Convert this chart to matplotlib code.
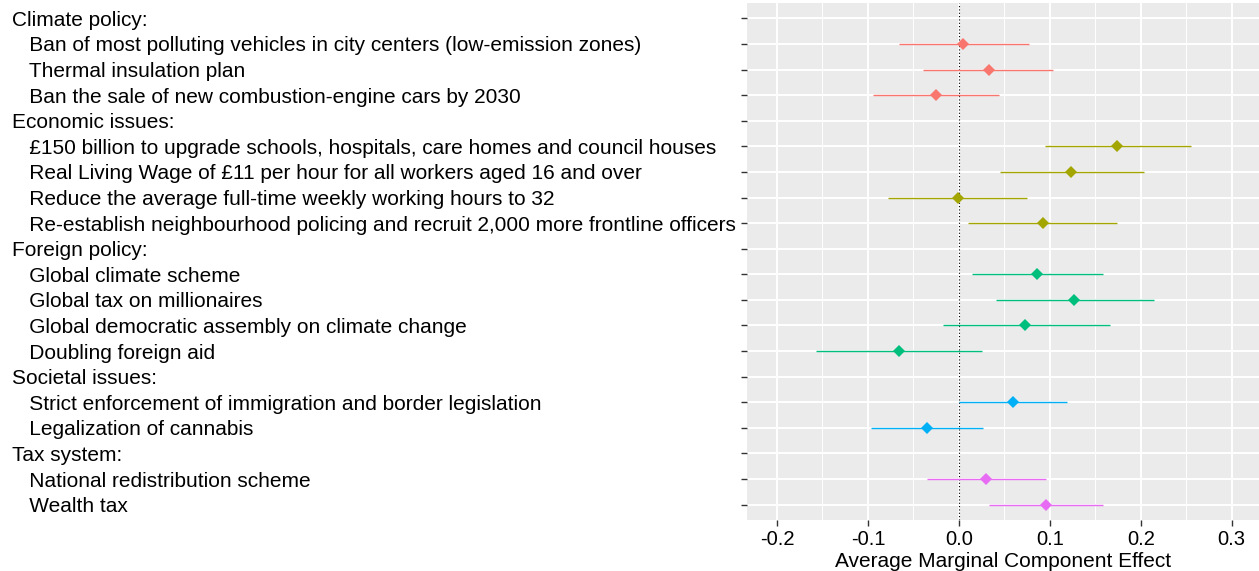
import matplotlib.pyplot as plt
from matplotlib.ticker import MultipleLocator

plt.rcParams['font.family'] = ['Liberation Sans', 'DejaVu Sans']

groups = ['Climate policy:', 'Economic issues:', 'Foreign policy:',
          'Societal issues:', 'Tax system:']
group_colors = ['#F8766D', '#A3A500', '#00BF7D', '#00B0F6', '#E76BF3']

items = [
    ['Ban of most polluting vehicles in city centers (low-emission zones)',
     'Thermal insulation plan',
     'Ban the sale of new combustion-engine cars by 2030'],
    ['£150 billion to upgrade schools, hospitals, care homes and council houses',
     'Real Living Wage of £11 per hour for all workers aged 16 and over',
     'Reduce the average full-time weekly working hours to 32',
     'Re-establish neighbourhood policing and recruit 2,000 more frontline officers'],
    ['Global climate scheme',
     'Global tax on millionaires',
     'Global democratic assembly on climate change',
     'Doubling foreign aid'],
    ['Strict enforcement of immigration and border legislation',
     'Legalization of cannabis'],
    ['National redistribution scheme',
     'Wealth tax'],
]

estimates = [
    [0.005, 0.033, -0.025],
    [0.174, 0.123, -0.001, 0.092],
    [0.086, 0.127, 0.073, -0.066],
    [0.059, -0.035],
    [0.030, 0.096],
]
lower = [
    [-0.066, -0.039, -0.094],
    [0.095, 0.045, -0.078, 0.010],
    [0.014, 0.041, -0.018, -0.157],
    [0.000, -0.097],
    [-0.035, 0.033],
]
upper = [
    [0.077, 0.104, 0.044],
    [0.255, 0.203, 0.075, 0.174],
    [0.159, 0.215, 0.166, 0.025],
    [0.119, 0.026],
    [0.096, 0.159],
]

fig = plt.figure(figsize=(12.59, 5.71), dpi=100)
ax = fig.add_axes([747 / 1259, 1 - 520 / 571, 512 / 1259, 517 / 571])
ax.set_facecolor('#EBEBEB')

labels = []
row = 0
for g, name in enumerate(groups):
    labels.append(name)
    row += 1
    for i, item in enumerate(items[g]):
        labels.append('   ' + item)
        c = group_colors[g]
        ax.plot([lower[g][i], upper[g][i]], [row, row], color=c, lw=1.0,
                solid_capstyle='butt', zorder=3)
        ax.plot(estimates[g][i], row, marker='D', color=c, markersize=5.8,
                markeredgewidth=0, zorder=4)
        row += 1

ax.axvline(0, color='black', lw=0.8, ls=(0, (1, 2)), zorder=2)

ax.set_xlim(-0.233, 0.330)
ax.set_ylim(len(labels) - 1 + 0.6, -0.6)
ax.xaxis.set_major_locator(MultipleLocator(0.1))
ax.xaxis.set_minor_locator(MultipleLocator(0.05))
ax.set_xticklabels([f'{v:.1f}' for v in ax.get_xticks()])
ax.set_yticks(range(len(labels)))
ax.set_yticklabels(labels, fontsize=15, ha='left', va='center_baseline')

ax.grid(which='major', color='white', lw=1.4, zorder=0)
ax.grid(which='minor', axis='x', color='white', lw=0.7, zorder=0)
ax.set_axisbelow(True)
for s in ax.spines.values():
    s.set_visible(False)

ax.tick_params(axis='y', which='major', length=4, width=1, color='#333333',
               pad=735 * 0.72 - 4 * 0.72 - 1.4)
ax.tick_params(axis='x', which='major', length=4, width=1, color='#333333',
               labelsize=14.5, pad=3)
ax.tick_params(axis='x', which='minor', length=0)
ax.set_xlabel('Average Marginal Component Effect', fontsize=15, labelpad=2.2)

fig.savefig('out.png', dpi=100)
